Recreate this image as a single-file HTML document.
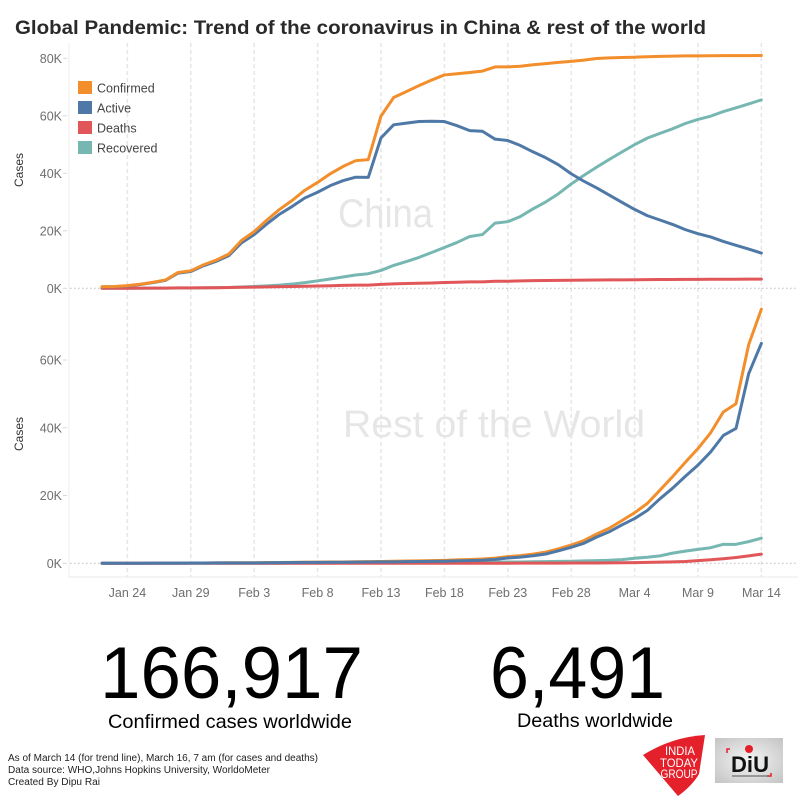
<!DOCTYPE html>
<html><head><meta charset="utf-8"><style>
html,body{margin:0;padding:0;background:#fff;}
svg{display:block;}
text{font-family:"Liberation Sans",sans-serif;}
</style></head><body>
<svg width="800" height="800" viewBox="0 0 800 800" xmlns="http://www.w3.org/2000/svg">
<rect width="800" height="800" fill="#fff"/>
<!-- title -->
<text x="15" y="34" font-size="19.5" font-weight="bold" fill="#2a2a2a" textLength="691" lengthAdjust="spacingAndGlyphs">Global Pandemic: Trend of the coronavirus in China &amp; rest of the  world</text>

<!-- grid -->
<g stroke="#e6e6e6" stroke-width="1.5" stroke-dasharray="4 3">
<line x1="127.4" y1="43" x2="127.4" y2="577"/>
<line x1="190.8" y1="43" x2="190.8" y2="577"/>
<line x1="254.2" y1="43" x2="254.2" y2="577"/>
<line x1="317.6" y1="43" x2="317.6" y2="577"/>
<line x1="381.0" y1="43" x2="381.0" y2="577"/>
<line x1="444.4" y1="43" x2="444.4" y2="577"/>
<line x1="507.8" y1="43" x2="507.8" y2="577"/>
<line x1="571.2" y1="43" x2="571.2" y2="577"/>
<line x1="634.6" y1="43" x2="634.6" y2="577"/>
<line x1="698.0" y1="43" x2="698.0" y2="577"/>
<line x1="761.4" y1="43" x2="761.4" y2="577"/>
</g>
<line x1="69" y1="43" x2="69" y2="577" stroke="#ececec" stroke-width="1"/>
<line x1="69" y1="577" x2="798" y2="577" stroke="#e8e8e8" stroke-width="1"/>
<!-- zero lines -->
<line x1="70" y1="288.3" x2="798" y2="288.3" stroke="#bdbdbd" stroke-width="1" stroke-dasharray="1.5 2.5"/>
<line x1="70" y1="563.3" x2="798" y2="563.3" stroke="#bdbdbd" stroke-width="1" stroke-dasharray="1.5 2.5"/>

<!-- y ticks -->
<g stroke="#d8d8d8" stroke-width="1">
<line x1="63" y1="58.3" x2="67" y2="58.3"/><line x1="63" y1="115.8" x2="67" y2="115.8"/><line x1="63" y1="173.3" x2="67" y2="173.3"/><line x1="63" y1="230.8" x2="67" y2="230.8"/><line x1="63" y1="288.3" x2="67" y2="288.3"/>
<line x1="63" y1="360" x2="67" y2="360"/><line x1="63" y1="427.8" x2="67" y2="427.8"/><line x1="63" y1="495.5" x2="67" y2="495.5"/><line x1="63" y1="563.3" x2="67" y2="563.3"/>
</g>
<g font-size="12.5" fill="#6e6e6e" text-anchor="end">
<text x="62" y="62.8">80K</text>
<text x="62" y="120.3">60K</text>
<text x="62" y="177.8">40K</text>
<text x="62" y="235.3">20K</text>
<text x="62" y="292.8">0K</text>
<text x="62" y="364.5">60K</text>
<text x="62" y="432.3">40K</text>
<text x="62" y="500">20K</text>
<text x="62" y="567.8">0K</text>
</g>
<g font-size="12" fill="#333" text-anchor="middle">
<text transform="translate(23 170) rotate(-90)">Cases</text>
<text transform="translate(23 434) rotate(-90)">Cases</text>
</g>
<!-- x labels -->
<g font-size="12.5" fill="#6e6e6e" text-anchor="middle">
<text x="127.4" y="597">Jan 24</text>
<text x="190.8" y="597">Jan 29</text>
<text x="254.2" y="597">Feb 3</text>
<text x="317.6" y="597">Feb 8</text>
<text x="381.0" y="597">Feb 13</text>
<text x="444.4" y="597">Feb 18</text>
<text x="507.8" y="597">Feb 23</text>
<text x="571.2" y="597">Feb 28</text>
<text x="634.6" y="597">Mar 4</text>
<text x="698.0" y="597">Mar 9</text>
<text x="761.4" y="597">Mar 14</text>
</g>

<!-- watermarks -->
<text x="338" y="227" font-size="40" fill="#e6e6e6" textLength="95" lengthAdjust="spacingAndGlyphs">China</text>
<text x="343" y="437" font-size="38" fill="#e6e6e6" textLength="302" lengthAdjust="spacingAndGlyphs">Rest of the World</text>

<!-- legend -->
<rect x="78" y="81" width="14" height="13" fill="#f28e2b"/>
<rect x="78" y="101" width="14" height="13" fill="#4e79a7"/>
<rect x="78" y="121" width="14" height="13" fill="#e15759"/>
<rect x="78" y="141" width="14" height="13" fill="#76b7b2"/>
<g font-size="12.5" fill="#444">
<text x="97" y="92.5">Confirmed</text>
<text x="97" y="112.5">Active</text>
<text x="97" y="132.5">Deaths</text>
<text x="97" y="152.5">Recovered</text>
</g>

<!-- China series -->
<g transform="translate(102 288.3) scale(12.68 -0.002875)" fill="none" stroke-width="3" stroke-linejoin="round" stroke-linecap="round">
<polyline vector-effect="non-scaling-stroke" stroke="#76b7b2" points="0,28 1,30 2,36 3,39 4,49 5,58 6,101 7,120 8,135 9,214 10,275 11,463 12,614 13,843 14,1115 15,1476 16,1962 17,2604 18,3219 19,3918 20,4635 21,5079 22,6213 23,7973 24,9294 25,10748 26,12455 27,14199 28,15952 29,18002 30,18693 31,22687 32,23170 33,24990 34,27650 35,30053 36,32898 37,36291 38,39279 39,42118 40,44810 41,47404 42,49955 43,52240 44,53888 45,55478 46,57320 47,58735 48,59882 49,61474 50,62793 51,64111 52,65541"/>
<polyline vector-effect="non-scaling-stroke" stroke="#e15759" points="0,17 1,18 2,26 3,42 4,56 5,82 6,131 7,133 8,171 9,213 10,259 11,361 12,425 13,490 14,562 15,632 16,717 17,804 18,904 19,1011 20,1111 21,1116 22,1368 23,1520 24,1662 25,1765 26,1863 27,2002 28,2114 29,2236 30,2236 31,2441 32,2443 33,2593 34,2663 35,2715 36,2744 37,2788 38,2835 39,2870 40,2912 41,2945 42,2981 43,3013 44,3042 45,3070 46,3097 47,3119 48,3136 49,3158 50,3169 51,3176 52,3189"/>
<polyline vector-effect="non-scaling-stroke" stroke="#4e79a7" points="0,503 1,595 2,858 3,1325 4,1970 5,2737 6,5277 7,5834 8,7835 9,9375 10,11357 11,15806 12,18677 13,22374 14,25763 15,28479 16,31431 17,33406 18,35706 19,37425 20,38640 21,38564 22,52314 23,56865 24,57457 25,58000 26,58116 27,58010 28,56553 29,54839 30,54621 31,51873 32,51409 33,49658 34,47441 35,45398 36,42958 37,39849 38,37242 39,34944 40,32414 41,29912 42,27450 43,25284 44,23760 45,22222 46,20406 47,19006 48,17869 49,16289 50,14970 51,13658 52,12247"/>
<polyline vector-effect="non-scaling-stroke" stroke="#f28e2b" points="0,548 1,643 2,920 3,1406 4,2075 5,2877 6,5509 7,6087 8,8141 9,9802 10,11891 11,16630 12,19716 13,23707 14,27440 15,30587 16,34110 17,36814 18,39829 19,42354 20,44386 21,44759 22,59895 23,66358 24,68413 25,70513 26,72434 27,74211 28,74619 29,75077 30,75550 31,77001 32,77022 33,77241 34,77754 35,78166 36,78600 37,78928 38,79356 39,79932 40,80136 41,80261 42,80386 43,80537 44,80690 45,80770 46,80823 47,80860 48,80887 49,80921 50,80932 51,80945 52,80977"/>
</g>

<!-- Rest of world series -->
<g transform="translate(102 563.3) scale(12.68 -0.003388)" fill="none" stroke-width="3" stroke-linejoin="round" stroke-linecap="round">
<polyline vector-effect="non-scaling-stroke" stroke="#f28e2b" points="0,7 1,10 2,21 3,28 4,43 5,50 6,70 7,82 8,106 9,132 10,146 11,153 12,159 13,191 14,228 15,265 16,317 17,344 18,372 19,398 20,454 21,497 22,547 23,594 24,675 25,728 26,792 27,873 28,1008 29,1111 30,1256 31,1528 32,1956 33,2268 34,2718 35,3300 36,4287 37,5401 38,6698 39,8626 40,10339 41,12597 42,14917 43,17651 44,21573 45,25588 46,29773 47,33872 48,38526 49,44672 50,47102 51,64558 52,75000"/>
<polyline vector-effect="non-scaling-stroke" stroke="#76b7b2" points="0,0 9,0 10,5 11,10 12,15 13,20 14,30 15,40 16,50 17,60 18,70 19,80 20,100 21,120 22,140 23,160 24,180 25,200 26,220 27,250 28,280 29,300 30,320 31,340 32,370 33,400 34,450 35,500 36,550 37,600 38,700 39,800 40,900 41,1100 42,1500 43,1800 44,2200 45,3000 46,3600 47,4100 48,4600 49,5600 50,5600 51,6400 52,7400"/>
<polyline vector-effect="non-scaling-stroke" stroke="#e15759" points="0,0 9,0 10,1 19,1 20,2 21,2 22,3 23,3 24,6 25,6 26,8 27,8 28,10 29,12 30,20 31,24 32,30 33,37 34,45 35,57 36,64 37,72 38,86 39,104 40,141 41,166 42,214 43,272 44,342 45,413 46,519 47,800 48,1050 49,1350 50,1700 51,2200 52,2700"/>
<polyline vector-effect="non-scaling-stroke" stroke="#4e79a7" points="0,7 1,10 2,21 3,28 4,43 5,50 6,70 7,82 8,106 9,132 10,140 11,142 12,143 13,170 14,197 15,224 16,266 17,283 18,301 19,317 20,352 21,375 22,404 23,431 24,489 25,522 26,564 27,615 28,718 29,799 30,916 31,1164 32,1556 33,1831 34,2223 35,2743 36,3673 37,4729 38,5912 39,7722 40,9298 41,11331 42,13203 43,15579 44,19031 45,22175 46,25654 47,28972 48,32876 49,37722 50,39802 51,55958 52,64900"/>
</g>

<!-- big numbers -->
<text x="100" y="698" font-size="73" fill="#000" textLength="263" lengthAdjust="spacingAndGlyphs">166,917</text>
<text x="108" y="728" font-size="19.5" fill="#000" textLength="244" lengthAdjust="spacingAndGlyphs">Confirmed cases worldwide</text>
<text x="490" y="698" font-size="73" fill="#000" textLength="175" lengthAdjust="spacingAndGlyphs">6,491</text>
<text x="517" y="727" font-size="19.5" fill="#000" textLength="156" lengthAdjust="spacingAndGlyphs">Deaths worldwide</text>

<!-- footnote -->
<g font-size="10" fill="#222">
<text x="8" y="761" textLength="310" lengthAdjust="spacingAndGlyphs">As of March 14 (for trend line), March 16, 7 am (for cases and deaths)</text>
<text x="8" y="773" textLength="262" lengthAdjust="spacingAndGlyphs">Data source: WHO,Johns Hopkins University, WorldoMeter</text>
<text x="8" y="785" textLength="92" lengthAdjust="spacingAndGlyphs">Created By Dipu Rai</text>
</g>

<!-- India Today logo -->
<path d="M643 755 Q672 737 705 735 L699 774 Q692 786 678 796 Z" fill="#e4202b"/>
<g font-size="12" fill="#fff" text-anchor="middle">
<text x="680" y="755" textLength="30" lengthAdjust="spacingAndGlyphs">INDIA</text>
<text x="679" y="767" textLength="38" lengthAdjust="spacingAndGlyphs">TODAY</text>
<text x="679" y="778" textLength="37" lengthAdjust="spacingAndGlyphs">GROUP</text>
</g>

<!-- DiU logo -->
<defs>
<radialGradient id="dg" cx="0.5" cy="0.5" r="0.7">
<stop offset="0" stop-color="#f4f4f4"/>
<stop offset="1" stop-color="#c4c4c4"/>
</radialGradient>
</defs>
<rect x="715" y="738" width="68" height="45" fill="url(#dg)"/>
<circle cx="749" cy="749" r="4" fill="#e4202b"/>
<text x="750" y="772" font-size="22" font-weight="bold" fill="#111" text-anchor="middle" textLength="38" lengthAdjust="spacingAndGlyphs">DiU</text>
<path d="M727 753 v-4 h3 M771 773 v3 h-4" stroke="#e4202b" stroke-width="1.5" fill="none"/>
<line x1="732" y1="776" x2="768" y2="776" stroke="#555" stroke-width="1"/>
</svg>
</body></html>
